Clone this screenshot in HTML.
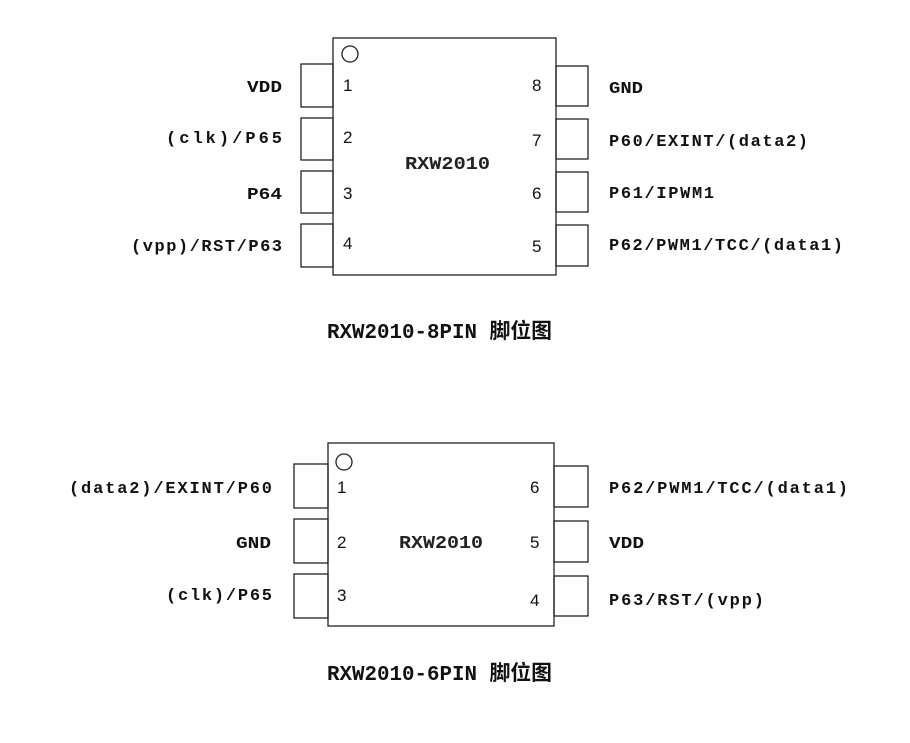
<!DOCTYPE html>
<html><head><meta charset="utf-8"><style>html,body{margin:0;padding:0;background:#fff}svg{display:block}</style></head>
<body>
<svg width="910" height="743" viewBox="0 0 910 743" xmlns="http://www.w3.org/2000/svg">
<g fill="none" stroke="#222" stroke-width="1.3">
<rect x="333" y="38" width="223" height="237"/>
<circle cx="350" cy="54" r="8"/>
<rect x="301" y="64" width="32" height="43"/>
<rect x="301" y="118" width="32" height="42"/>
<rect x="301" y="171" width="32" height="42"/>
<rect x="301" y="224" width="32" height="43"/>
<rect x="556" y="66" width="32" height="40"/>
<rect x="556" y="119" width="32" height="40"/>
<rect x="556" y="172" width="32" height="40"/>
<rect x="556" y="225" width="32" height="41"/>
<rect x="328" y="443" width="226" height="183"/>
<circle cx="344" cy="462" r="8"/>
<rect x="294" y="464" width="34" height="44"/>
<rect x="294" y="519" width="34" height="44"/>
<rect x="294" y="574" width="34" height="44"/>
<rect x="554" y="466" width="34" height="41"/>
<rect x="554" y="521" width="34" height="41"/>
<rect x="554" y="576" width="34" height="40"/>
</g>
<g font-family="Liberation Sans, sans-serif" font-size="17" fill="#111">
<text x="343" y="91">1</text><text x="343" y="143">2</text><text x="343" y="199">3</text><text x="343" y="249">4</text>
<text x="532" y="91">8</text><text x="532" y="146">7</text><text x="532" y="199">6</text><text x="532" y="252">5</text>
<text x="337" y="493">1</text><text x="337" y="548">2</text><text x="337" y="601">3</text>
<text x="530" y="493">6</text><text x="530" y="548">5</text><text x="530" y="606">4</text>
</g>
<g font-family="Liberation Mono, monospace" font-size="18" fill="#222" font-weight="bold">
<text x="405" y="169" textLength="85" lengthAdjust="spacingAndGlyphs">RXW2010</text>
<text x="399" y="548" textLength="84" lengthAdjust="spacingAndGlyphs">RXW2010</text>
</g>
<g font-family="Liberation Mono, monospace" font-size="17" font-weight="bold" fill="#111">
<text x="247" y="92" textLength="35" lengthAdjust="spacingAndGlyphs">VDD</text>
<text x="166" y="143" textLength="116" lengthAdjust="spacing">(clk)/P65</text>
<text x="247" y="199" textLength="35" lengthAdjust="spacingAndGlyphs">P64</text>
<text x="131" y="251" textLength="151" lengthAdjust="spacing">(vpp)/RST/P63</text>
<text x="609" y="93" textLength="34" lengthAdjust="spacingAndGlyphs">GND</text>
<text x="609" y="146" textLength="199" lengthAdjust="spacing">P60/EXINT/(data2)</text>
<text x="609" y="198" textLength="105" lengthAdjust="spacing">P61/IPWM1</text>
<text x="609" y="250" textLength="234" lengthAdjust="spacing">P62/PWM1/TCC/(data1)</text>
<text x="69" y="493" textLength="203" lengthAdjust="spacing">(data2)/EXINT/P60</text>
<text x="236" y="548" textLength="35" lengthAdjust="spacingAndGlyphs">GND</text>
<text x="166" y="600" textLength="106" lengthAdjust="spacing">(clk)/P65</text>
<text x="609" y="493" textLength="239" lengthAdjust="spacing">P62/PWM1/TCC/(data1)</text>
<text x="609" y="548" textLength="35" lengthAdjust="spacingAndGlyphs">VDD</text>
<text x="609" y="605" textLength="155" lengthAdjust="spacing">P63/RST/(vpp)</text>
</g>
<g font-family="Liberation Mono, 'Noto Sans CJK SC', monospace" font-size="21" font-weight="bold" fill="#111">
<text x="327" y="338" textLength="225" lengthAdjust="spacingAndGlyphs">RXW2010-8PIN 脚位图</text>
<text x="327" y="680" textLength="225" lengthAdjust="spacingAndGlyphs">RXW2010-6PIN 脚位图</text>
</g>
</svg>
</body></html>
